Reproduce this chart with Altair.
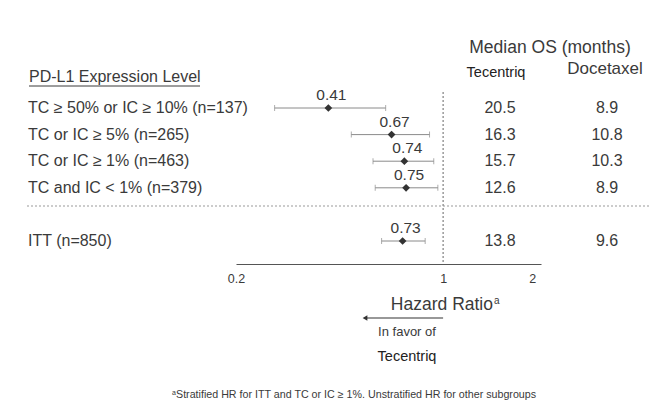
import altair as alt
import pandas as pd

# ---- data ----
labels = ["TC \u2265 50% or IC \u2265 10% (n=137)", "TC or IC \u2265 5% (n=265)",
          "TC or IC \u2265 1% (n=463)", "TC and IC < 1% (n=379)", "ITT (n=850)"]
rows = [0, 1, 2, 3, 5]
hr = [0.41, 0.67, 0.74, 0.75, 0.73]
lo = [0.27, 0.49, 0.58, 0.59, 0.62]
hi = [0.64, 0.90, 0.93, 0.96, 0.87]
tec_os = ["20.5", "16.3", "15.7", "12.6", "13.8"]
doc_os = ["8.9", "10.8", "10.3", "8.9", "9.6"]
tick_values = [0.2, 1, 2]

df = pd.DataFrame({"label": labels, "row": rows, "hr": hr, "lo": lo, "hi": hi,
                   "tec": tec_os, "doc": doc_os,
                   "hrtxt": [f"{v:.2f}" for v in hr]})
ref_df = pd.DataFrame({"one": [1.0]})
arrow_df = pd.DataFrame({"start": [1.0], "end": [0.545]})

FONT = "Liberation Sans"
TXT = "#3a3a3a"
LINE = "#8a8a8a"

xscale = alt.Scale(type="log", domain=[0.2, 2.14], range=[236, 541], nice=False, zero=False)
xaxis = alt.Axis(values=tick_values, format="~g", title=None, ticks=False, grid=False,
                 domainColor="#555555", domainWidth=1, labelColor=TXT, labelFontSize=12.5,
                 labelFont=FONT, labelPadding=8, labelFlush=False, labelOverlap=False)
yscale = alt.Scale(domain=[0, 5], range=[108, 241], zero=False, nice=False)


def X(field):
    return alt.X(field, type="quantitative", scale=xscale, axis=xaxis)


def Y():
    return alt.Y("row:Q", scale=yscale, axis=None)


base = alt.Chart(df)

ci = base.mark_rule(color=LINE, strokeWidth=1).encode(x=X("lo"), x2="hi", y=Y())
cap_lo = base.mark_tick(color=LINE, orient="vertical", size=6, thickness=1).encode(x=X("lo"), y=Y())
cap_hi = base.mark_tick(color=LINE, orient="vertical", size=6, thickness=1).encode(x=X("hi"), y=Y())
pts = base.mark_point(shape="diamond", filled=True, size=60, color="#333333", opacity=1).encode(x=X("hr"), y=Y())
hr_txt = base.mark_text(font=FONT, fontSize=15.5, color=TXT, dy=-13, dx=3).encode(x=X("hr"), y=Y(), text="hrtxt")

left_lbl = base.mark_text(font=FONT, fontSize=16, color=TXT, align="left").encode(
    x=alt.value(28), y=Y(), text="label")
tec_txt = base.mark_text(font=FONT, fontSize=16, color=TXT).encode(x=alt.value(500), y=Y(), text="tec")
doc_txt = base.mark_text(font=FONT, fontSize=16, color=TXT).encode(x=alt.value(607), y=Y(), text="doc")

vref = alt.Chart(ref_df).mark_rule(color="#666666", strokeDash=[2, 2], strokeWidth=1).encode(
    x=X("one"), y=alt.value(92), y2=alt.value(264))
sep = alt.Chart(ref_df).mark_rule(color="#999999", strokeDash=[2, 2], strokeWidth=1).encode(
    x=alt.value(27), x2=alt.value(651), y=alt.value(206))

arrow_line = alt.Chart(arrow_df).mark_rule(color="#333333", strokeWidth=1.2).encode(
    x=X("start"), x2="end", y=alt.value(318))
arrow_head = alt.Chart(arrow_df).mark_point(shape="triangle-left", filled=True, size=30,
                                            color="#333333", opacity=1).encode(
    x=X("end"), y=alt.value(318))


def label(text, x, y, size, align="center", color=TXT):
    return alt.Chart(ref_df).mark_text(font=FONT, fontSize=size, color=color, align=align,
                                       baseline="middle", text=text).encode(
        x=alt.value(x), y=alt.value(y))


heading = label("PD-L1 Expression Level", 29, 77, 16, align="left")
underline = alt.Chart(ref_df).mark_rule(color=TXT, strokeWidth=1).encode(
    x=alt.value(29), x2=alt.value(200), y=alt.value(86))
median_hdr = label("Median OS (months)", 550, 48, 17.5)
tec_hdr = label("Tecentriq", 496, 73, 14.5, color="#222222")
doc_hdr = label("Docetaxel", 605, 69, 17)
hr_title = label("Hazard Ratio", 493, 305, 17.5, align="right")
hr_sup = label("a", 494, 301, 10, align="left")
favor = label("In favor of", 407, 332, 13)
favor2 = label("Tecentriq", 407, 357, 14.5, color="#222222")
foot_sup = label("a", 172, 393, 7, align="left")
foot = label("Stratified HR for ITT and TC or IC \u2265 1%. Unstratified HR for other subgroups",
             176, 395, 10.7, align="left")

chart = alt.layer(
    vref, sep, ci, cap_lo, cap_hi, pts, hr_txt, left_lbl, tec_txt, doc_txt,
    arrow_line, arrow_head, heading, underline, median_hdr, tec_hdr, doc_hdr,
    hr_title, hr_sup, favor, favor2, foot_sup, foot
).properties(
    width=666, height=264,
    autosize=alt.AutoSizeParams(type="none"),
    padding={"left": 0, "right": 0, "top": 0, "bottom": 147},
    background="white",
).configure_view(stroke="transparent")

chart.save("out.html", embed_options={"renderer": "svg", "actions": False})
